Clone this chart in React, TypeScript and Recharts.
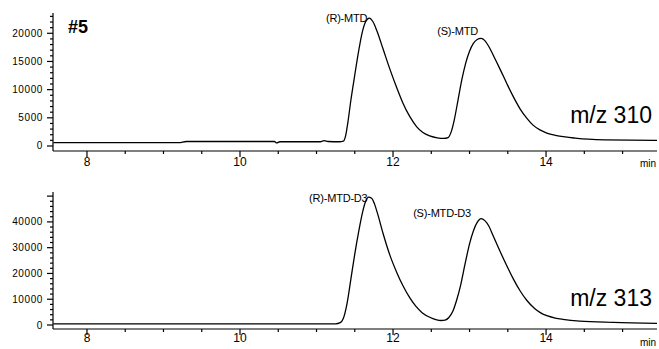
import { LineChart, Line, XAxis, YAxis, ReferenceDot } from "recharts";

// retention time (min) and intensity, m/z 310 trace
const topTimes = [
  7.56, 9.2, 9.3, 10.45, 10.48, 10.52, 11.05, 11.1, 11.15, 11.3, 11.35, 11.38, 11.41, 11.45, 11.5, 11.55, 11.6,
  11.64, 11.69, 11.74, 11.79, 11.87, 11.96, 12.05, 12.13, 12.22, 12.31, 12.39, 12.48, 12.58, 12.66, 12.72, 12.76,
  12.8, 12.85, 12.9, 12.95, 13.0, 13.05, 13.1, 13.15, 13.2, 13.25, 13.31, 13.4, 13.49, 13.57, 13.66, 13.75, 13.83,
  13.92, 14.01, 14.12, 14.25, 14.38, 14.55, 14.77, 15.45,
];
const topIntensity = [
  600, 600, 800, 800, 550, 750, 750, 950, 800, 750, 850, 1800, 4200, 8200, 12600, 16800, 20300,
  22000, 22700, 22000, 20400, 17200, 13600, 10300, 7600, 5200, 3400, 2400, 1800, 1450, 1350, 1500, 2500,
  4600, 8200, 11800, 14700, 16800, 18200, 18900, 19100, 18700, 17700, 16100, 13600, 11000, 8800, 6600, 4900, 3700,
  2850, 2300, 1900, 1600, 1400, 1200, 1080, 1000,
];

// m/z 313 trace (deuterated)
const bottomTimes = [
  7.56, 11.25, 11.31, 11.35, 11.4, 11.45, 11.5, 11.55, 11.6, 11.64, 11.68, 11.72, 11.76, 11.8, 11.87, 11.96, 12.05,
  12.13, 12.22, 12.3, 12.38, 12.48, 12.56, 12.63, 12.68, 12.73, 12.78, 12.83, 12.88, 12.94, 13.0, 13.05, 13.1, 13.15,
  13.2, 13.25, 13.31, 13.4, 13.49, 13.57, 13.66, 13.75, 13.85, 13.93, 14.01, 14.12, 14.22, 14.44, 14.88, 15.45,
];
const bottomIntensity = [
  450, 450, 900, 2500, 8500, 18000, 27500, 36000, 43500, 47800, 49600, 49200, 46800, 43000, 35500, 27000, 20300,
  15200, 10500, 7200, 4800, 3000, 2100, 1750, 1900, 2900, 5200, 9500, 15000, 23500, 31500, 36500, 39800, 41300,
  40500, 38500, 34500, 28500, 22800, 18000, 13300, 9500, 6400, 4700, 3600, 2700, 2200, 1500, 1000, 650,
];

const xTicks = [8, 8.5, 9, 9.5, 10, 10.5, 11, 11.5, 12, 12.5, 13, 13.5, 14, 14.5, 15];
const yTicksTop = Array.from({ length: 24 }, (_, i) => i * 1000);
const yTicksBottom = Array.from({ length: 26 }, (_, i) => i * 2000);

const topLabels = ["(R)-MTD", "(S)-MTD"];
const bottomLabels = ["(R)-MTD-D3", "(S)-MTD-D3"];

const FONT = '"Liberation Sans", Arial, sans-serif';
const MINOR = 3;

const toRows = (ts: number[], vs: number[]) => ts.map((t, i) => ({ t, v: vs[i] }));

function peakIn(ts: number[], vs: number[], lo: number, hi: number) {
  let best = -1;
  ts.forEach((t, i) => {
    if (t >= lo && t <= hi && (best < 0 || vs[i] > vs[best])) best = i;
  });
  return { t: ts[best], v: vs[best] };
}

// y arrives already shifted by the native tick (MINOR px)
const XTick = (props: any) => {
  const { x, y, payload, labelDy } = props;
  const major = payload.value % 2 === 0;
  return (
    <g>
      {major && <path d={`M${x},${y}v3`} stroke="#000" strokeWidth={1.2} fill="none" />}
      {major && (
        <text x={x} y={y - MINOR + labelDy} textAnchor="middle" fontSize={12} fontFamily={FONT} fill="#000" stroke="none">
          {payload.value}
        </text>
      )}
    </g>
  );
};

const YTick = (props: any) => {
  const { x, y, payload, step, maxLabel } = props;
  const major = payload.value % step === 0;
  return (
    <g>
      {major && <path d={`M${x},${y}h-3`} stroke="#000" strokeWidth={1.2} fill="none" />}
      {major && payload.value <= maxLabel && (
        <text
          x={x + MINOR - 10}
          y={y + 3.5}
          textAnchor="end"
          fontSize={10}
          letterSpacing={0.6}
          fontFamily={FONT}
          fill="#000"
          stroke="none"
        >
          {payload.value}
        </text>
      )}
    </g>
  );
};

const PeakLabel = (props: any) => {
  const { viewBox, txt, ox, oy } = props;
  if (!viewBox) return null;
  const cx = viewBox.x + (viewBox.width || 0) / 2;
  const cy = viewBox.y + (viewBox.height || 0) / 2;
  return (
    <text x={cx + ox} y={cy + oy} textAnchor="end" fontSize={11} letterSpacing={-0.2} fontFamily={FONT} fill="#000">
      {txt}
    </text>
  );
};

function Trace(props: {
  times: number[];
  values: number[];
  domain: [number, number];
  ticks: number[];
  step: number;
  maxLabel: number;
  height: number;
  top: number;
  xHeight: number;
  labelDy: number;
  labels: string[];
  offsets: [number, number][];
}) {
  const { times, values, domain, ticks, step, maxLabel, height, top, xHeight, labelDy, labels, offsets } = props;
  const p1 = peakIn(times, values, 11, 12.4);
  const p2 = peakIn(times, values, 12.7, 14);
  return (
    <LineChart width={659} height={height} data={toRows(times, values)} margin={{ top, right: 2, bottom: 0, left: 0 }}>
      <XAxis
        dataKey="t"
        type="number"
        domain={[7.556, 15.45]}
        allowDataOverflow
        ticks={xTicks}
        interval={0}
        height={xHeight}
        tickSize={MINOR}
        tickMargin={0}
        tickLine={{ stroke: "#000", strokeWidth: 1.2 }}
        axisLine={{ stroke: "#000", strokeWidth: 1.2 }}
        tick={<XTick labelDy={labelDy} />}
      />
      <YAxis
        type="number"
        domain={domain}
        allowDataOverflow
        ticks={ticks}
        interval={0}
        width={53}
        tickSize={MINOR}
        tickMargin={0}
        tickLine={{ stroke: "#000", strokeWidth: 1.2 }}
        axisLine={{ stroke: "#000", strokeWidth: 1.2 }}
        tick={<YTick step={step} maxLabel={maxLabel} />}
      />
      <Line
        type="monotone"
        dataKey="v"
        stroke="#000"
        strokeWidth={1.3}
        dot={false}
        activeDot={false}
        isAnimationActive={false}
      />
      <ReferenceDot
        x={p1.t}
        y={p1.v}
        r={0}
        fill="none"
        stroke="none"
        ifOverflow="visible"
        label={<PeakLabel txt={labels[0]} ox={offsets[0][0]} oy={offsets[0][1]} />}
      />
      <ReferenceDot
        x={p2.t}
        y={p2.v}
        r={0}
        fill="none"
        stroke="none"
        ifOverflow="visible"
        label={<PeakLabel txt={labels[1]} ox={offsets[1][0]} oy={offsets[1][1]} />}
      />
    </LineChart>
  );
}

export default function App() {
  return (
    <div style={{ position: "absolute", left: 0, top: 0, width: 659, height: 349, background: "#fff", fontFamily: FONT }}>
      <div style={{ position: "absolute", left: 0, top: 0 }}>
        <Trace
          times={topTimes}
          values={topIntensity}
          domain={[-890, 23600]}
          ticks={yTicksTop}
          step={5000}
          maxLabel={20000}
          height={175}
          top={13}
          xHeight={24}
          labelDy={15}
          labels={topLabels}
          offsets={[
            [-2, 4],
            [-3, -3],
          ]}
        />
      </div>
      <div style={{ position: "absolute", left: 0, top: 175 }}>
        <Trace
          times={bottomTimes}
          values={bottomIntensity}
          domain={[-1550, 51600]}
          ticks={yTicksBottom}
          step={10000}
          maxLabel={40000}
          height={174}
          top={17}
          xHeight={20}
          labelDy={13}
          labels={bottomLabels}
          offsets={[
            [-1, 5],
            [-10, -2],
          ]}
        />
      </div>
      <svg width={659} height={349} style={{ position: "absolute", left: 0, top: 0, pointerEvents: "none" }}>
        <text x={68} y={33} fontSize={18} fontWeight="bold" fontFamily={FONT} fill="#000">
          #5
        </text>
        <text x={652} y={123} textAnchor="end" fontSize={23} fontFamily={FONT} fill="#000">
          m/z 310
        </text>
        <text x={652} y={306} textAnchor="end" fontSize={23} fontFamily={FONT} fill="#000">
          m/z 313
        </text>
        <text x={656} y={167} textAnchor="end" fontSize={10} fontFamily={FONT} fill="#000">
          min
        </text>
        <text x={656} y={346} textAnchor="end" fontSize={10} fontFamily={FONT} fill="#000">
          min
        </text>
      </svg>
    </div>
  );
}
